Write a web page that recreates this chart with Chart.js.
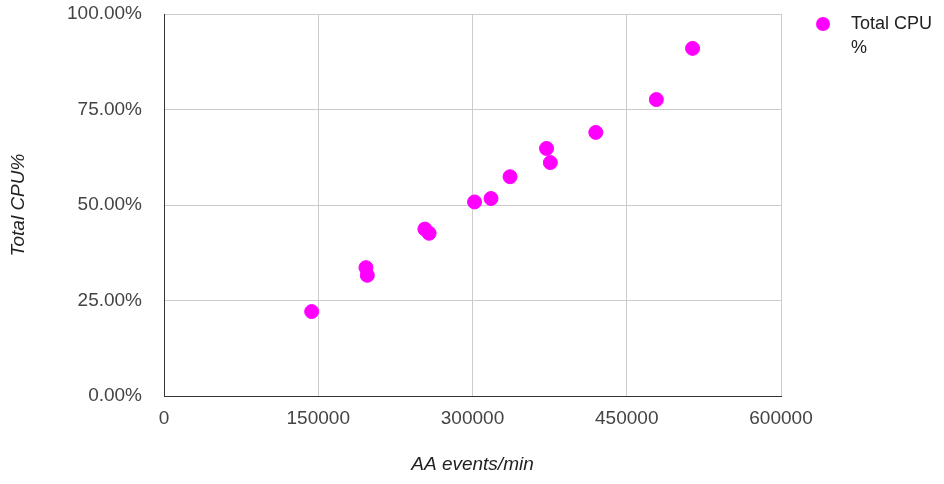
<!DOCTYPE html>
<html>
<head>
<meta charset="utf-8">
<script src="https://cdn.jsdelivr.net/npm/chart.js@4/dist/chart.umd.min.js"></script>
<style>
  html, body { margin: 0; padding: 0; background: #fff; }
  #wrap { position: relative; width: 944px; height: 484px; }
</style>
</head>
<body>
<div id="wrap"><canvas id="grafico"></canvas></div>
<script>
// dados
const eventos = [143600, 196400, 197700, 253700, 257800, 302000, 318000, 336500, 372000, 375700, 419900, 478800, 514000];
const cpu     = [0.221, 0.336, 0.316, 0.437, 0.426, 0.508, 0.517, 0.574, 0.648, 0.611, 0.690, 0.776, 0.910];
const xTicks  = [0, 150000, 300000, 450000, 600000];
const yTicks  = [0, 0.25, 0.5, 0.75, 1];
const serieNome = ['Total CPU', '%'];

const fonte = "'Liberation Sans', Arial, sans-serif";
const rosa = '#ff00ff';

// legenda desenhada à mão (texto quebra em duas linhas)
const legendaPlugin = {
  id: 'legendaLateral',
  afterDraw(chart){
    const ctx = chart.ctx;
    ctx.save();
    ctx.fillStyle = rosa;
    ctx.beginPath();
    ctx.arc(823, 24, 7, 0, Math.PI*2);
    ctx.fill();
    ctx.fillStyle = '#222';
    ctx.font = '18px ' + fonte;
    ctx.textBaseline = 'middle';
    serieNome.forEach((t,i)=>{ ctx.fillText(t, 851, 24 + i*24); });
    ctx.restore();
  }
};

const ctx = document.getElementById('grafico').getContext('2d');
new Chart(ctx, {
  type: 'scatter',
  data: {
    datasets: [{
      label: serieNome.join(' '),
      data: eventos.map((v,i)=>({x:v, y:cpu[i]})),
      backgroundColor: rosa,
      borderColor: rosa,
      pointRadius: 7,
      pointHoverRadius: 7
    }]
  },
  options: {
    responsive: true,
    maintainAspectRatio: false,
    animation: false,
    layout: { padding: { top: 14, right: 163, left: 0, bottom: 0 } },
    plugins: {
      legend: { display: false },
      tooltip: { enabled: false }
    },
    scales: {
      x: {
        type: 'linear',
        min: 0, max: 600000,
        afterBuildTicks: s => { s.ticks = xTicks.map(v=>({value:v})); },
        afterFit: s => { s.height = 88; s.paddingLeft = 0; s.paddingRight = 0; },
        ticks: { color: '#444', padding: 11, font: { family: fonte, size: 19 }, callback: v => String(v), maxRotation: 0 },
        grid: { color: c => c.tick && c.tick.value === 0 ? 'rgba(0,0,0,0)' : '#cccccc', drawTicks: false },
        border: { display: true, color: '#333', width: 1 },
        title: { display: true, text: 'AA events/min', color: '#222', font: { family: fonte, size: 19, style: 'italic' }, padding: { top: 0, bottom: 8 } }
      },
      y: {
        min: 0, max: 1,
        afterBuildTicks: s => { s.ticks = yTicks.map(v=>({value:v})); },
        afterFit: s => { s.width = 164; s.paddingTop = 0; s.paddingBottom = 0; },
        ticks: { color: '#444', padding: 22, font: { family: fonte, size: 19 }, callback: v => (v*100).toFixed(2) + '%' },
        grid: { color: c => c.tick && c.tick.value === 0 ? 'rgba(0,0,0,0)' : '#cccccc', drawTicks: false },
        border: { display: true, color: '#333', width: 1 },
        title: { display: true, text: 'Total CPU%', color: '#222', font: { family: fonte, size: 19, style: 'italic' }, padding: { top: 7, bottom: 0 } }
      }
    }
  },
  plugins: [legendaPlugin]
});
</script>
</body>
</html>
